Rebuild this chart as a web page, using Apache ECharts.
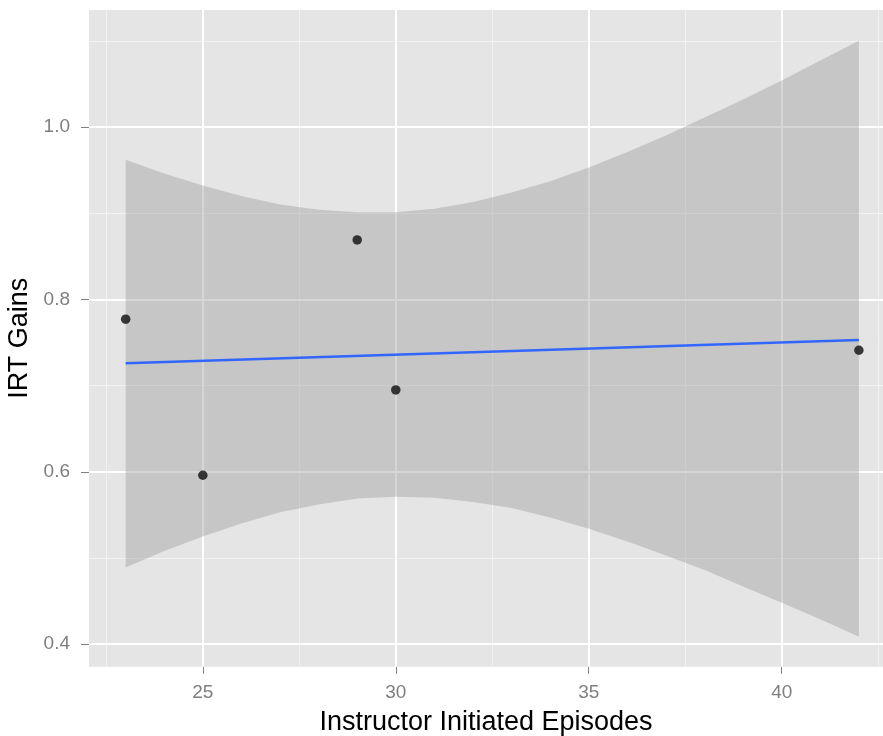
<!DOCTYPE html>
<html>
<head>
<meta charset="utf-8">
<script src="https://cdn.jsdelivr.net/npm/echarts@6/dist/echarts.min.js"></script>
<style>
html,body{margin:0;padding:0;background:#fff;}
#chart{width:883px;height:736px;}
</style>
</head>
<body>
<div id="chart"></div>
<script>
// Observations
const episodes = [23, 25, 29, 30, 42];
const gains = [0.777, 0.596, 0.869, 0.695, 0.741];
// Fitted line (endpoints)
const fitX = [23, 42];
const fitY = [0.726, 0.753];
// Confidence band
const bandX = [23, 24, 25, 26, 27, 28, 29, 30, 31, 32, 33, 34, 35, 36, 37, 38, 39, 40, 41, 42];
const bandUpper = [0.962, 0.946, 0.932, 0.920, 0.910, 0.904, 0.901, 0.901, 0.905, 0.913, 0.924, 0.937, 0.953, 0.971, 0.990, 1.011, 1.032, 1.054, 1.077, 1.100];
const bandLower = [0.489, 0.508, 0.525, 0.540, 0.553, 0.562, 0.569, 0.571, 0.570, 0.565, 0.558, 0.547, 0.534, 0.519, 0.503, 0.486, 0.467, 0.448, 0.429, 0.4085];
// Ticks and grid
const xTicks = [25, 30, 35, 40];
const xMinor = [22.5, 27.5, 32.5, 37.5, 42.5];
const yTicks = [0.4, 0.6, 0.8, 1.0];
const yMinor = [0.5, 0.7, 0.9, 1.1];

const FONT = 'Liberation Sans, Arial, Helvetica, sans-serif';
const chart = echarts.init(document.getElementById('chart'), null, {renderer: 'canvas'});

const gridLines = [];
xMinor.forEach(v => gridLines.push({xAxis: v, lineStyle: {color: '#f2f2f2', width: 1, type: 'solid'}}));
yMinor.forEach(v => gridLines.push({yAxis: v, lineStyle: {color: '#f2f2f2', width: 1, type: 'solid'}}));
xTicks.forEach(v => gridLines.push({xAxis: v, lineStyle: {color: '#ffffff', width: 2, type: 'solid'}}));
yTicks.forEach(v => gridLines.push({yAxis: v, lineStyle: {color: '#ffffff', width: 2, type: 'solid'}}));

chart.setOption({
  animation: false,
  backgroundColor: '#ffffff',
  grid: {
    left: 89, top: 10, right: 0, bottom: 69.3,
    containLabel: false, outerBoundsMode: 'none',
    show: true, backgroundColor: '#e5e5e5', borderWidth: 0
  },
  xAxis: {
    type: 'value', min: 22.05, max: 42.625,
    name: 'Instructor Initiated Episodes', nameLocation: 'middle', nameGap: 42,
    nameTextStyle: {fontFamily: FONT, fontSize: 27, color: '#000000'},
    axisLine: {show: false},
    splitLine: {show: false},
    axisTick: {show: true, customValues: xTicks, length: 7, lineStyle: {color: '#7f7f7f', width: 1}},
    axisLabel: {show: true, customValues: xTicks, margin: 17, fontFamily: FONT, fontSize: 19, color: '#7f7f7f'}
  },
  yAxis: {
    type: 'value', min: 0.3739, max: 1.1357,
    name: 'IRT Gains', nameLocation: 'middle', nameGap: 55, nameRotate: 90,
    nameTextStyle: {fontFamily: FONT, fontSize: 27, color: '#000000'},
    axisLine: {show: false},
    splitLine: {show: false},
    axisTick: {show: true, customValues: yTicks, length: 8, lineStyle: {color: '#7f7f7f', width: 1}},
    axisLabel: {show: true, customValues: yTicks, margin: 19, fontFamily: FONT, fontSize: 19, color: '#7f7f7f',
      formatter: v => Number(v).toFixed(1)}
  },
  series: [
    {
      type: 'scatter', data: [], z: 1, silent: true,
      markLine: {silent: true, symbol: 'none', z: 1, animation: false, label: {show: false}, data: gridLines}
    },
    {
      type: 'custom', z: 2, silent: true, clip: true,
      data: bandX.map((x, i) => [x, bandLower[i], bandUpper[i]]),
      encode: {x: 0, y: [1, 2]},
      renderItem: function (params, api) {
        if (params.dataIndex !== 0) return null;
        const pts = [];
        for (let i = 0; i < bandX.length; i++) pts.push(api.coord([bandX[i], bandUpper[i]]));
        for (let i = bandX.length - 1; i >= 0; i--) pts.push(api.coord([bandX[i], bandLower[i]]));
        return {type: 'polygon', shape: {points: pts}, style: {fill: 'rgba(153,153,153,0.4)', stroke: null}};
      }
    },
    {
      type: 'line', z: 3, silent: true, showSymbol: false,
      data: fitX.map((x, i) => [x, fitY[i]]),
      lineStyle: {color: '#3366FF', width: 2.5}
    },
    {
      type: 'scatter', z: 4, silent: true,
      data: episodes.map((x, i) => [x, gains[i]]),
      symbol: 'circle', symbolSize: 9.5,
      itemStyle: {color: '#0d0d0d'}
    }
  ]
});
</script>
</body>
</html>
